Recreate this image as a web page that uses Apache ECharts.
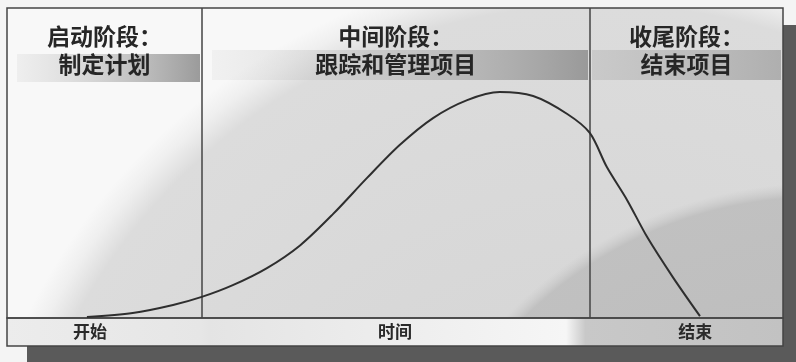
<!DOCTYPE html>
<html>
<head>
<meta charset="utf-8">
<script src="https://cdn.jsdelivr.net/npm/echarts@6/dist/echarts.min.js"></script>
<style>
  html, body { margin: 0; padding: 0; background: #f4f4f4; }
  #chart { width: 796px; height: 362px; }
</style>
</head>
<body>
<div id="chart"></div>
<script>
// phases of the project life cycle (x in % of time span)
const phaseNames = ['启动阶段：', '中间阶段：', '收尾阶段：'];
const phaseTasks = ['制定计划', '跟踪和管理项目', '结束项目'];
const phaseBounds = [0, 25.1, 75.1, 100];

// bottom strip labels
const axisMarks = [10.7, 50, 88.7];
const axisTexts = ['开始', '时间', '结束'];

// effort curve
const effortX = [10.3, 16.2, 21.4, 25.1, 29.1, 33.5, 37.8, 42.0, 46.4, 50.6, 54.9,
                 59.3, 63.5, 67.8, 72.2, 75.1, 77.3, 79.9, 82.5, 85.8, 89.3];
const effortY = [0.3, 1.6, 4.2, 6.8, 10.6, 16.1, 23.5, 33.5, 45.2, 55.8, 64.5,
                 70.3, 72.9, 71.6, 65.8, 59.7, 48.7, 38.1, 26.1, 13.2, 0.6];

const font = '"Noto Sans CJK SC", "Noto Sans", sans-serif';
const L = 7, R = 783, T = 8, B = 318, S = 346;

function band(x1, x2, y1, y2, c0, c1) {
    return {
        type: 'rect', z: 1, silent: true,
        shape: { x: x1, y: y1, width: x2 - x1, height: y2 - y1 },
        style: { fill: new echarts.graphic.LinearGradient(0, 0, 1, 0, [
            { offset: 0, color: c0 }, { offset: 1, color: c1 }]) }
    };
}

const chart = echarts.init(document.getElementById('chart'));
chart.setOption({
    animation: false,
    backgroundColor: '#f4f4f4',
    grid: { left: L, right: 796 - R, top: T, bottom: 362 - B },
    xAxis: {
        type: 'value', min: 0, max: 100, z: 10,
        axisLine: { show: false },
        axisTick: { show: false },
        splitLine: { show: false },
        axisLabel: {
            customValues: axisMarks,
            formatter: v => axisTexts[axisMarks.indexOf(v)] || '',
            fontFamily: font, fontSize: 17, fontWeight: 'bold', color: '#2a2a2a',
            margin: 5
        }
    },
    yAxis: { type: 'value', min: 0, max: 100, show: false },
    graphic: [
        // drop shadow
        { type: 'rect', z: 0, silent: true, shape: { x: R, y: 25, width: 796 - R, height: 337 }, style: { fill: '#5a5a5a' } },
        { type: 'rect', z: 0, silent: true, shape: { x: 27, y: S, width: 769, height: 362 - S }, style: { fill: '#5a5a5a' } },
        // paper texture inside the frame
        { type: 'rect', z: 0, silent: true, shape: { x: L, y: T, width: R - L, height: B - T },
          style: { fill: { type: 'radial', x: 600, y: 600, r: 640, global: true, colorStops: [
              { offset: 0, color: '#d2d2d2' }, { offset: 0.93, color: '#dcdcdc' },
              { offset: 0.97, color: '#efefef' }, { offset: 1, color: '#f8f8f8' }] } } },
        { type: 'rect', z: 0, silent: true, shape: { x: L, y: T, width: R - L, height: B - T },
          style: { fill: { type: 'radial', x: 820, y: 620, r: 470, global: true, colorStops: [
              { offset: 0, color: 'rgba(185,185,185,1)' }, { offset: 0.9, color: 'rgba(190,190,190,0.9)' },
              { offset: 0.93, color: 'rgba(200,200,200,0)' }, { offset: 1, color: 'rgba(200,200,200,0)' }] } } },
        // header bands
        band(L + 10, 200, 54, 82, 'rgba(200,200,200,0.2)', 'rgba(150,150,150,0.95)'),
        band(212, 588, 50, 80, 'rgba(210,210,210,0.2)', 'rgba(150,150,150,0.95)'),
        band(592, R - 2, 50, 80, 'rgba(190,190,190,0.6)', 'rgba(170,170,170,0.9)'),
        // bottom strip
        { type: 'rect', z: 1, silent: true, shape: { x: L, y: B, width: R - L, height: S - B },
          style: { fill: new echarts.graphic.LinearGradient(0, 0, 1, 0, [
              { offset: 0, color: '#ececec' }, { offset: 0.25, color: '#e6e6e6' },
              { offset: 0.26, color: '#e4e4e4' }, { offset: 0.72, color: '#f6f6f6' },
              { offset: 0.745, color: '#c8c8c8' }, { offset: 1, color: '#c2c2c2' }]),
              stroke: '#444', lineWidth: 1.5 } },
        // frame
        { type: 'rect', z: 3, silent: true, shape: { x: L, y: T, width: R - L, height: B - T },
          style: { fill: 'none', stroke: '#444', lineWidth: 1.5 } }
    ],
    series: [{
        type: 'line',
        z: 5,
        data: effortX.map((x, i) => [x, effortY[i]]),
        smooth: 0.3,
        showSymbol: false,
        lineStyle: { color: '#2e2e2e', width: 2 },
        markLine: {
            silent: true, symbol: 'none', label: { show: false },
            lineStyle: { color: '#444', width: 1.5, type: 'solid' },
            data: phaseBounds.slice(1, -1).map(v => ({ xAxis: v }))
        },
        markArea: {
            silent: true,
            itemStyle: { color: 'rgba(0,0,0,0)' },
            label: {
                position: 'insideTop', distance: 14,
                fontFamily: font, fontSize: 23, fontWeight: 'bold',
                lineHeight: 28, color: '#262626', align: 'center'
            },
            data: phaseNames.map((n, i) => [
                { xAxis: phaseBounds[i], name: n + '\n' + phaseTasks[i] },
                { xAxis: phaseBounds[i + 1] }
            ])
        }
    }]
});
</script>
</body>
</html>
